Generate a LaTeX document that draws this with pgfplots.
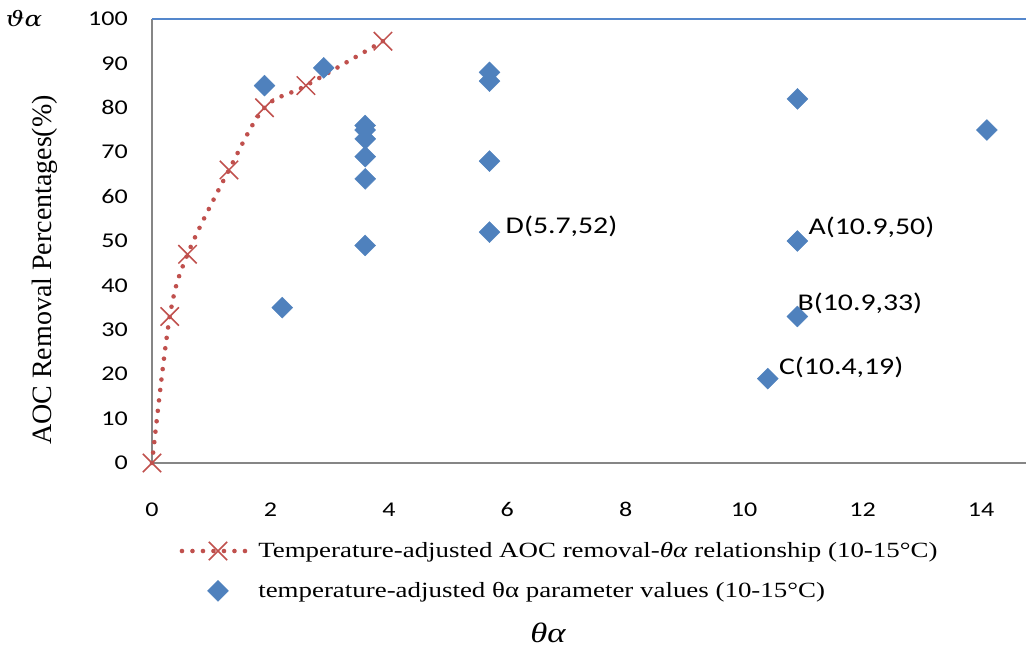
\documentclass[border=0pt]{standalone}
\usepackage{fontspec}
\setmainfont{Liberation Serif}[FakeStretch=1.24]
\newfontfamily\serifplain{Liberation Serif}
\newfontfamily\carlito{Carlito}[FakeStretch=1.24]
\newfontfamily\djserif{DejaVu Serif}[FakeStretch=1.24]
\usepackage{pgfplots}
\pgfplotsset{compat=1.18}
\pgfplotsset{mylegend/.style={legend image code/.code={\draw[mark repeat=2,mark phase=2,##1] plot coordinates {(0pt,0pt) (36pt,0pt) (72pt,0pt)};}}}
\definecolor{exred}{RGB}{192,80,77}
\definecolor{exblue}{RGB}{79,129,189}
\definecolor{axgray}{RGB}{134,134,134}
\definecolor{topblue}{RGB}{84,135,204}
\begin{document}
\begin{tikzpicture}[x=1pt,y=1pt]
\useasboundingbox (-152,-188) rectangle (874,463);
\begin{axis}[
  at={(0,0)}, anchor=south west,
  scale only axis, width=874pt, height=444pt,
  xmin=0, xmax=14.76, ymin=0, ymax=100,
  axis line style={draw=none},
  major tick length=0pt,
  xtick={0,2,...,14}, ytick={0,10,...,100},
  /pgf/number format/assume math mode=true,
  tick label style={font=\carlito\fontsize{21}{21}\selectfont, inner sep=0pt},
  xticklabel style={anchor=base, yshift=-53pt},
  yticklabel style={anchor=east, xshift=-24pt},
  clip=false,
  legend style={at={(0.028,-0.17)}, anchor=north west, draw=none, fill=none,
    font=\fontsize{21.7}{21.7}\selectfont, row sep=19pt},
  legend cell align=left,
]
\draw[axgray, line width=1.5pt] (rel axis cs:0,1) -- (rel axis cs:0,0) -- (rel axis cs:1,0);
\draw[topblue, line width=1.5pt] (rel axis cs:0,1) -- (rel axis cs:1,1);
\addplot[exred, line width=4.6pt, dash pattern=on 0pt off 10.5pt, line cap=round, smooth, tension=0.55,
  mark=x, mark size=13pt, mark options={solid, line width=1.5pt, line cap=butt}, mylegend]
  coordinates {(0,0) (0.3,33) (0.6,47) (1.3,66) (1.9,80) (2.6,85) (3.9,95)};
\addlegendentry{Temperature-adjusted AOC removal-\textit{θα} relationship (10-15°C)}
\addplot[only marks, mark=square*, mark size=7.4pt, mark options={rotate=45, fill=exblue, draw=exblue}, mylegend]
  coordinates {(1.9,85) (2.2,35) (2.9,89) (3.6,76) (3.6,75) (3.6,73) (3.6,69) (3.6,64) (3.6,49)
  (5.7,88) (5.7,86) (5.7,68) (5.7,52) (10.9,82) (14.1,75) (10.9,50) (10.9,33) (10.4,19)};
\addlegendentry{temperature-adjusted θα parameter values (10-15°C)}
\begin{scope}[every node/.style={font=\carlito\fontsize{24}{24}\selectfont, inner sep=0pt, anchor=west}]
\node at (axis cs:5.7,52) [xshift=16pt, yshift=6pt] {D(5.7,52)};
\node at (axis cs:10.9,50) [xshift=11pt, yshift=14pt] {A(10.9,50)};
\node at (axis cs:10.9,33) [xshift=0pt, yshift=13pt] {B(10.9,33)};
\node at (axis cs:10.4,19) [xshift=11pt, yshift=11pt] {C(10.4,19)};
\end{scope}
\end{axis}
\node[font=\serifplain\fontsize{28}{28}\selectfont, rotate=90, inner sep=0pt] at (-107,193) {AOC Removal Percentages(\%)};
\node[font=\fontsize{28}{28}\selectfont\itshape, inner sep=0pt] at (396,-170) {θα};
\node[font=\djserif\fontsize{21}{21}\selectfont\itshape, inner sep=0pt] at (-128,445) {ϑα};
\end{tikzpicture}
\end{document}
